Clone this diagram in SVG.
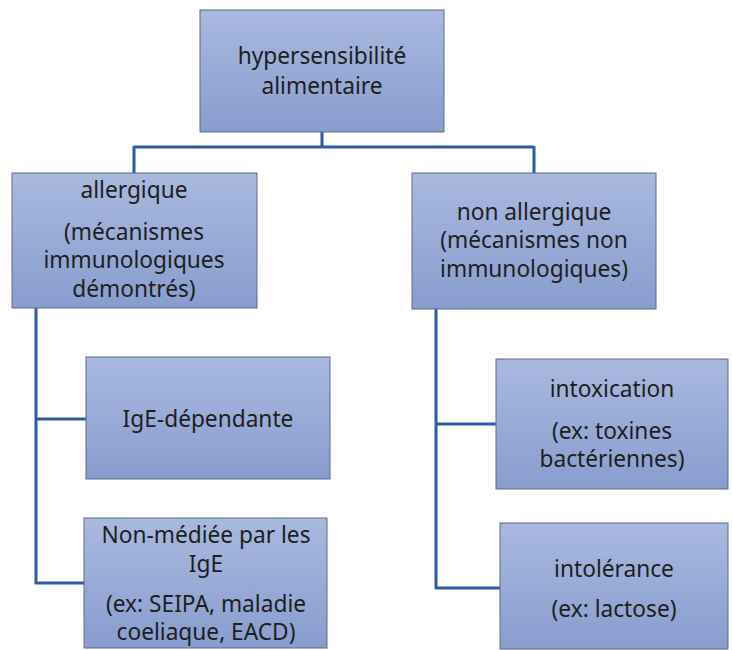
<svg xmlns="http://www.w3.org/2000/svg" width="732" height="650" viewBox="0 0 732 650">
<defs>
<linearGradient id="g" x1="0" y1="0" x2="0" y2="1">
<stop offset="0" stop-color="#a9b9df"/>
<stop offset="1" stop-color="#889dcf"/>
</linearGradient>
<style>
.box{fill:url(#g);stroke:#5d6b88;stroke-width:1}
.t{font-family:"Noto Sans","Open Sans",sans-serif;font-size:22.7px;fill:#1e1e1e;text-anchor:middle}
.c{fill:none;stroke:#2c5ca8;stroke-width:3}
</style>
</defs>
<rect width="732" height="650" fill="#ffffff"/>
<g id="connectors">
<path class="c" d="M322 132V147M134 147H534M134 146V173M534 146V173"/>
<path class="c" d="M36 308V584M35 419H86M35 583H84"/>
<path class="c" d="M436 309V589M435 424H496M435 588H500"/>
</g>
<g id="n-root">
<rect class="box" x="200" y="10" width="244" height="122"/>
<text class="t" x="322" y="64">hypersensibilité</text>
<text class="t" x="322" y="94">alimentaire</text>
</g>
<g id="n-allergique">
<rect class="box" x="12" y="173" width="245" height="135"/>
<text class="t" x="134" y="198">allergique</text>
<text class="t" x="134" y="240">(mécanismes</text>
<text class="t" x="134" y="268">immunologiques</text>
<text class="t" x="134" y="297">démontrés)</text>
</g>
<g id="n-nonallergique">
<rect class="box" x="412" y="173" width="244" height="136"/>
<text class="t" x="534" y="220">non allergique</text>
<text class="t" x="534" y="248">(mécanismes non</text>
<text class="t" x="534" y="277">immunologiques)</text>
</g>
<g id="n-ige">
<rect class="box" x="86" y="357" width="244" height="122"/>
<text class="t" x="208" y="427">IgE-dépendante</text>
</g>
<g id="n-nonige">
<rect class="box" x="84" y="518" width="243" height="130"/>
<text class="t" x="206" y="543">Non-médiée par les</text>
<text class="t" x="206" y="572">IgE</text>
<text class="t" x="206" y="612">(ex: SEIPA, maladie</text>
<text class="t" x="206" y="640">coeliaque, EACD)</text>
</g>
<g id="n-intox">
<rect class="box" x="496" y="359" width="232" height="130"/>
<text class="t" x="612" y="397">intoxication</text>
<text class="t" x="612" y="439">(ex: toxines</text>
<text class="t" x="612" y="467">bactériennes)</text>
</g>
<g id="n-intol">
<rect class="box" x="500" y="523" width="228" height="126"/>
<text class="t" x="614" y="577">intolérance</text>
<text class="t" x="614" y="617">(ex: lactose)</text>
</g>
</svg>
